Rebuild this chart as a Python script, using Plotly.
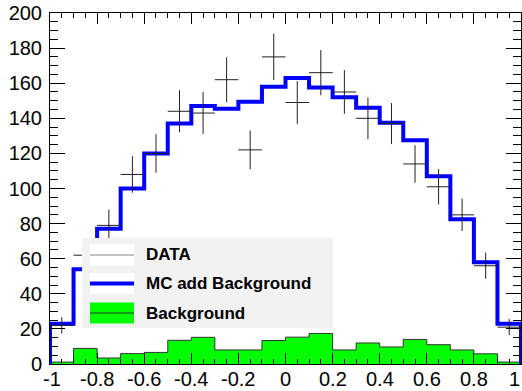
import numpy as np
import plotly.graph_objects as go

# Histogram binning: 20 bins over [-1, 1]
bin_edges = np.linspace(-1.0, 1.0, 21)
bin_centers = 0.5 * (bin_edges[:-1] + bin_edges[1:])

# Observed counts per bin
data_counts = [22, 62, 79, 108, 120, 144, 143, 162, 122, 175,
               149, 166, 155, 140, 137, 114, 101, 85, 56, 21]

# Monte Carlo prediction including background
mc_plus_bg = [23, 54, 77, 100, 120, 137, 147, 145.5, 149.5, 158,
              163, 157.5, 152, 146, 137.5, 127.5, 107, 82.5, 58, 23]

# Background component
background = [1.1, 8.9, 3.4, 5.9, 6.6, 13.5, 15.2, 8.0, 8.0, 13.4,
              15.3, 17.4, 8.0, 12.0, 9.7, 14.0, 11.0, 8.0, 5.8, 1.1]

y_tick_vals = [0, 20, 40, 60, 80, 100, 120, 140, 160, 180, 200]
x_tick_vals = [-1, -0.8, -0.6, -0.4, -0.2, 0, 0.2, 0.4, 0.6, 0.8, 1]
x_tick_text = ["-1", "-0.8", "-0.6", "-0.4", "-0.2", "0", "0.2", "0.4", "0.6", "0.8", "1"]

legend_labels = ["DATA", "MC add Background", "Background"]

FONT = "Liberation Sans, Arial, Helvetica, sans-serif"
W, H = 522, 391
ML, MR, MT, MB = 50, 1, 13, 27


def step_xy(values):
    """Closed step outline over the bin edges, starting and ending at zero."""
    xs = [bin_edges[0]] + list(bin_edges[:-1]) + [bin_edges[-1], bin_edges[-1]]
    ys = [0] + list(values) + [values[-1], 0]
    return xs, ys


fig = go.Figure()

# Background histogram (filled)
bx, by = step_xy(background)
fig.add_trace(go.Scatter(
    x=bx, y=by, mode="lines", line=dict(shape="hv", color="#333333", width=1),
    fill="tozeroy", fillcolor="#00ff00", showlegend=False, hoverinfo="skip"))

# MC + background histogram outline
mx, my = step_xy(mc_plus_bg)
fig.add_trace(go.Scatter(
    x=mx, y=my, mode="lines", line=dict(shape="hv", color="#0000ff", width=4),
    showlegend=False, hoverinfo="skip"))

# Data points with Poisson errors and bin-width horizontal bars
fig.add_trace(go.Scatter(
    x=bin_centers, y=data_counts, mode="markers",
    marker=dict(size=1, color="#222222"),
    error_y=dict(type="data", array=np.sqrt(data_counts), color="#222222",
                 thickness=1, width=0),
    error_x=dict(type="constant", value=0.05, color="#222222",
                 thickness=1, width=0),
    showlegend=False))


def px(x):
    return (x - ML) / (W - ML - MR)


def py(y):
    return (H - MB - y) / (H - MT - MB)


shapes = []
annotations = []

# Legend panel
shapes.append(dict(type="rect", xref="paper", yref="paper",
                   x0=px(82), x1=px(333), y0=py(328), y1=py(238),
                   fillcolor="#f2f2f2", line=dict(width=0), layer="above"))

rows = [255, 283.5, 313]
for i, (label, yc) in enumerate(zip(legend_labels, rows)):
    fill = "#00ff00" if i == 2 else "#ffffff"
    shapes.append(dict(type="rect", xref="paper", yref="paper",
                       x0=px(90), x1=px(134), y0=py(yc + 10.5), y1=py(yc - 10.5),
                       fillcolor=fill, line=dict(width=0), layer="above"))
    if i == 0:
        line = dict(color="#888888", width=1.2)
    elif i == 1:
        line = dict(color="#0000ff", width=4)
    else:
        line = dict(color="#333333", width=1)
    shapes.append(dict(type="line", xref="paper", yref="paper",
                       x0=px(90), x1=px(134), y0=py(yc), y1=py(yc),
                       line=line, layer="above"))
    annotations.append(dict(xref="paper", yref="paper", x=px(144), y=py(yc),
                            text="<b>%s</b>" % label, showarrow=False,
                            xanchor="left", yanchor="middle",
                            font=dict(family=FONT, size=17, color="#000000")))

# X tick labels, kept inside the page at the bottom edge
last = len(x_tick_vals) - 1
for i, (v, t) in enumerate(zip(x_tick_vals, x_tick_text)):
    annotations.append(dict(xref="x", yref="paper", x=v, y=py(390.5),
                            text=t, showarrow=False, borderpad=0,
                            xanchor="right" if i == last else "center",
                            xshift=2 if i == 0 else 0,
                            yanchor="bottom",
                            font=dict(family=FONT, size=20, color="#000000")))

axis_common = dict(
    showgrid=False, zeroline=False, showline=True, linecolor="#000000",
    linewidth=1, mirror="allticks", ticks="inside", tickcolor="#000000",
    tickfont=dict(family=FONT, size=20, color="#000000"),
    automargin=False,
)

fig.update_layout(
    width=W, height=H,
    margin=dict(l=ML, r=MR, t=MT, b=MB, pad=0, autoexpand=False),
    paper_bgcolor="#ffffff", plot_bgcolor="#ffffff",
    shapes=shapes, annotations=annotations,
    xaxis=dict(range=[-1, 1], tickvals=x_tick_vals, showticklabels=False,
               ticklen=11, minor=dict(dtick=0.05, ticklen=5, ticks="inside",
                                      tickcolor="#000000"),
               **axis_common),
    yaxis=dict(range=[0, 200], tickvals=y_tick_vals, ticklen=15,
               ticklabelstandoff=3,
               minor=dict(dtick=5, ticklen=8, ticks="inside",
                          tickcolor="#000000"),
               **axis_common),
)

fig.write_html("out.html")
